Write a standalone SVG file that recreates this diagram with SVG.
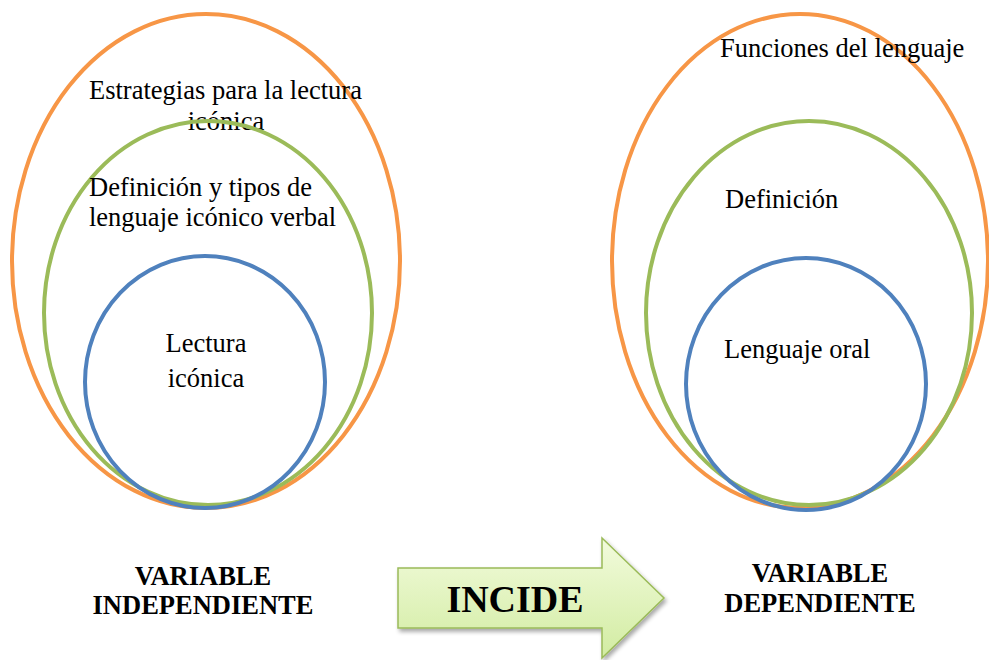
<svg xmlns="http://www.w3.org/2000/svg" width="989" height="660" viewBox="0 0 989 660">
<style>
.o{fill:none;stroke:#F79646;stroke-width:4}
.g{fill:none;stroke:#9BBB59;stroke-width:4}
.b{fill:none;stroke:#4F81BD;stroke-width:4}
text{font-family:"Liberation Serif","Times New Roman",serif;fill:#000}
.t{font-size:26.5px}
.h{font-size:26.5px;font-weight:bold;text-anchor:middle}
.c{text-anchor:middle}
</style>
<defs>
<linearGradient id="ag" x1="0" y1="0" x2="0" y2="1">
<stop offset="0" stop-color="#f2fbdc"/>
<stop offset="1" stop-color="#d2eca2"/>
</linearGradient>
<filter id="sh" x="-10%" y="-10%" width="130%" height="130%">
<feGaussianBlur in="SourceAlpha" stdDeviation="2"/>
<feOffset dx="2" dy="3"/>
<feComponentTransfer><feFuncA type="linear" slope="0.35"/></feComponentTransfer>
<feMerge><feMergeNode/><feMergeNode in="SourceGraphic"/></feMerge>
</filter>
</defs>
<g id="left-outer">
<ellipse class="o" cx="206" cy="261" rx="194" ry="247"/>
<text class="t" x="89" y="99">Estrategias para la lectura</text>
<text class="t c" x="226" y="130">icónica</text>
</g>
<g id="left-middle">
<ellipse class="g" cx="208" cy="313" rx="164" ry="192"/>
<text class="t" x="89" y="196">Definición y tipos de</text>
<text class="t" x="89" y="226">lenguaje icónico verbal</text>
</g>
<g id="left-inner">
<ellipse class="b" cx="205" cy="382" rx="120" ry="126"/>
<text class="t c" x="206" y="352">Lectura</text>
<text class="t c" x="206" y="387">icónica</text>
</g>
<g id="right-outer">
<ellipse class="o" cx="800" cy="261" rx="188" ry="247"/>
<text class="t" x="720" y="57">Funciones del lenguaje</text>
</g>
<g id="right-middle">
<ellipse class="g" cx="809" cy="313" rx="163" ry="192"/>
<text class="t" x="725" y="208">Definición</text>
</g>
<g id="right-inner">
<ellipse class="b" cx="806" cy="384" rx="120" ry="126"/>
<text class="t" x="724" y="358">Lenguaje oral</text>
</g>
<g id="label-independiente">
<text class="h" x="203" y="585">VARIABLE</text>
<text class="h" x="203" y="614">INDEPENDIENTE</text>
</g>
<g id="label-dependiente">
<text class="h" x="820" y="582">VARIABLE</text>
<text class="h" x="820" y="612">DEPENDIENTE</text>
</g>
<g id="connectors">
<g id="incide-arrow">
<path d="M398,568 L602,568 L602,538 L664,598 L602,658 L602,628 L398,628 Z" fill="url(#ag)" stroke="#9BBB59" stroke-width="1.5" filter="url(#sh)"/>
<text x="515" y="612" style="font-size:38px;font-weight:bold;text-anchor:middle">INCIDE</text>
</g>
</g>
</svg>
